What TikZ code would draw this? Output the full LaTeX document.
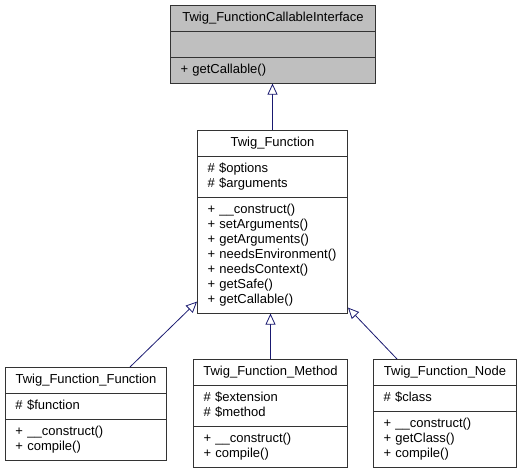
\documentclass[tikz,border=0pt]{standalone}
\usepackage{fontspec}
\setmainfont{Liberation Sans}
\usetikzlibrary{shapes,arrows.meta}
\definecolor{edgeblue}{HTML}{191970}
\definecolor{ifacegray}{HTML}{BFBFBF}
\tikzset{%
  classbox/.style={%
    rectangle split,%
    rectangle split parts=3,%
    draw=black!80,%
    line width=0.9pt,%
    inner xsep=10pt,%
    inner ysep=5pt,%
    align=left,%
    anchor=north},
  inherit/.style={%
    draw=edgeblue,%
    line width=0.8pt,%
    -{Triangle[open,length=11pt,width=10pt,fill=white]}}
}
\newcommand{\mline}[1]{\strut #1}
\newcommand{\ctitle}[1]{\makebox[\hsize][c]{\strut #1}}

\begin{document}
\begin{tikzpicture}[x=1pt,y=1pt,every
            node/.style={font=\fontsize{13}{15}\selectfont}]
            \useasboundingbox (0,0) rectangle (527,-471);
            \node [classbox,fill=ifacegray,text width=185pt] (iface) at (273,-5) {%
              \ctitle{Twig\_FunctionCallableInterface}%
              \nodepart{two}%
              \mline{}%
              \nodepart{three}%
              \mline{+ getCallable()}};
            \node [classbox,text width=130pt] (tf) at (272.5,-130) {%
              \ctitle{Twig\_Function}%
              \nodepart{two}%
              \mline{\# \$options}\\
              \mline{\# \$arguments}%
              \nodepart{three}%
              \mline{+ \_\_construct()}\\
              \mline{+ setArguments()}\\
              \mline{+ getArguments()}\\
              \mline{+ needsEnvironment()}\\
              \mline{+ needsContext()}\\
              \mline{+ getSafe()}\\
              \mline{+ getCallable()}};
            \node [classbox,text width=141pt] (tff) at (86,-367) {%
              \ctitle{Twig\_Function\_Function}%
              \nodepart{two}%
              \mline{\# \$function}%
              \nodepart{three}%
              \mline{+ \_\_construct()}\\
              \mline{+ compile()}};
            \node [classbox,text width=134pt] (tfm) at (270.5,-359) {%
              \ctitle{Twig\_Function\_Method}%
              \nodepart{two}%
              \mline{\# \$extension}\\
              \mline{\# \$method}%
              \nodepart{three}%
              \mline{+ \_\_construct()}\\
              \mline{+ compile()}};
            \node [classbox,text width=123pt] (tfn) at (445,-359) {%
              \ctitle{Twig\_Function\_Node}%
              \nodepart{two}%
              \mline{\# \$class}%
              \nodepart{three}%
              \mline{+ \_\_construct()}\\
              \mline{+ getClass()}\\
              \mline{+ compile()}};
            % inheritance
            \draw [inherit] (tf.north) -- (tf.north |- iface.south);
            \draw [inherit] ([xshift=44pt]tff.north) -- ([yshift=12pt]tf.south west);
            \draw [inherit] (tfm.north) -- (tfm.north |- tf.south);
            \draw [inherit] ([xshift=-48pt]tfn.north) -- ([yshift=6pt]tf.south east);
          \end{tikzpicture}
\end{document}
